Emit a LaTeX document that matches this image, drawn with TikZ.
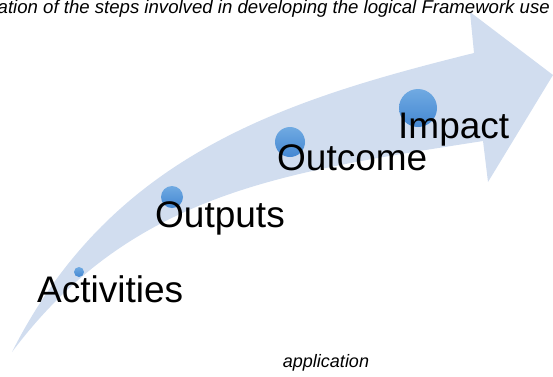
\documentclass[tikz,border=0pt]{standalone}
\usepackage{fontspec}
\setmainfont{Liberation Sans}
\definecolor{band}{RGB}{209,221,239}
\definecolor{beadtop}{RGB}{112,170,226}
\definecolor{beadbot}{RGB}{68,135,210}

\begin{document}
\begin{tikzpicture}[x=1pt, y=-1pt,
    stage/.style={anchor=base west, inner sep=0pt, font=\fontsize{37}{40}\selectfont},
    bead/.style={circle, inner sep=0pt, top color=beadtop, bottom color=beadbot}]
       \useasboundingbox (0,0) rectangle (553,376);
       \clip (0,0) rectangle (553,376);
       \fill[band] (12,352) .. controls (111,156) and (280,101) .. (474,53)
       -- (470,12) -- (553,75) -- (488,182) -- (483,141)
       .. controls (285,172) and (132,192) .. (12,352) --cycle;

       \node[bead, minimum size=10pt] (dact) at (79,272) {};
       \node[bead, minimum size=22pt] (dout) at (172,197) {};
       \node[bead, minimum size=30pt] (doutc) at (290,142) {};
       \node[bead, minimum size=38pt] (dimp) at (418,108) {};

       \node[stage] (act) at (37,302) {Activities};
       \node[stage] (out) at (155,227) {Outputs};
       \node[stage] (outc) at (277,170) {Outcome};
       \node[stage] (imp) at (398,138) {Impact};

       \node[anchor=base east, inner sep=0pt, font=\fontsize{18.6}{20}\selectfont\itshape]
       (title) at (550,13) {ation of the steps involved in developing the logical Framework use};
       \node[anchor=base, inner sep=0pt, font=\fontsize{18}{20}\selectfont\itshape]
       (app) at (326,367) {application};
     \end{tikzpicture}
\end{document}
